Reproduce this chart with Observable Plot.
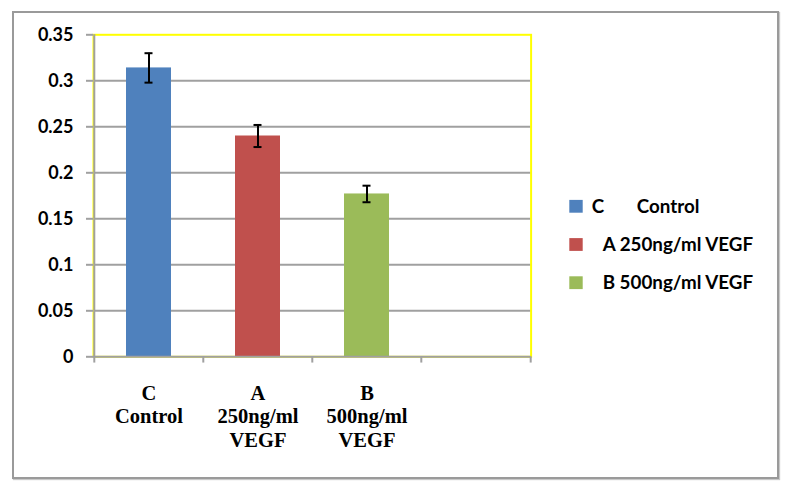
<!DOCTYPE html>
<html>
<head>
<meta charset="utf-8">
<script src="https://cdn.jsdelivr.net/npm/d3@7"></script>
<script src="https://cdn.jsdelivr.net/npm/@observablehq/plot@0.6"></script>
<style>
  html, body { margin: 0; padding: 0; background: #fff; }
  #wrap { position: relative; width: 796px; height: 486px; overflow: hidden; }
  #wrap > svg { position: absolute; left: 0; top: 0; }
  #frame { position: absolute; left: 12px; top: 11px; width: 763px; height: 464px;
           border: 2px solid #9a9a9a; box-shadow: 1px 1px 1px #c8c8c8; }
</style>
</head>
<body>
<div id="wrap"><div id="frame"></div></div>
<script>
// ---- data ----
const categories = ["C", "A", "B", ""];
const tickLabels = ["C\nControl", "A\n250ng/ml\nVEGF", "B\n500ng/ml\nVEGF", ""];
const means = [0.314, 0.240, 0.177];
const errors = [0.016, 0.012, 0.009];
const colors = ["#4f81bd", "#c0504d", "#9bbb59"];
const legendCodes = ["C", "A", "B"];
const legendNames = ["Control", "250ng/ml VEGF", "500ng/ml VEGF"];
const yTicks = [0, 0.05, 0.1, 0.15, 0.2, 0.25, 0.3, 0.35];

const data = means.map((v, i) => ({cat: categories[i], v, lo: v - errors[i], hi: v + errors[i], color: colors[i]}));

const W = 796, H = 486, ml = 93, mr = 265.4, mt = 34.3, mb = 129.7;
const step = (W - ml - mr) / categories.length;
const grid = "#a0a0a0";

const chart = Plot.plot({
  width: W, height: H,
  marginLeft: ml, marginRight: mr, marginTop: mt, marginBottom: mb,
  style: {background: "transparent", overflow: "visible"},
  x: {type: "band", domain: categories, paddingInner: 0.59, paddingOuter: 0.295, label: null},
  y: {domain: [0, 0.35], label: null},
  marks: [
    Plot.ruleY(yTicks.filter(t => t > 0 && t < 0.35), {stroke: grid, strokeWidth: 2}),
    Plot.frame({stroke: "#ffff00", strokeWidth: 2}),
    Plot.barY(data, {x: "cat", y: "v", fill: "color"}),
    Plot.ruleY([0], {stroke: grid, strokeWidth: 2}),
    Plot.ruleX([categories[0]], {x: d => d, dx: -step / 2, y1: 0, y2: 0.35, stroke: grid, strokeWidth: 2}),
    Plot.ruleX(categories, {x: d => d, dx: -step / 2, y1: 0, y2: -0.0068, stroke: grid, strokeWidth: 2}),
    Plot.ruleX([categories[categories.length - 1]], {x: d => d, dx: step / 2, y1: 0, y2: -0.0068, stroke: grid, strokeWidth: 2}),
    Plot.ruleX(data, {x: "cat", y1: "lo", y2: "hi", stroke: "#000", strokeWidth: 2}),
    Plot.tickY(data, {x: "cat", y: "hi", stroke: "#000", strokeWidth: 2, insetLeft: 18.5, insetRight: 18.5}),
    Plot.tickY(data, {x: "cat", y: "lo", stroke: "#000", strokeWidth: 2, insetLeft: 18.5, insetRight: 18.5}),
    Plot.axisY({ticks: yTicks, tickSize: 7, tickPadding: 13, stroke: grid, strokeWidth: 2, label: null,
      tickFormat: d => String(+d.toFixed(2)), fontSize: 18, fontFamily: "Lato", fontWeight: "bold", fill: "#000"}),
    Plot.axisX({tickSize: 0, tickPadding: 26, label: null, tickFormat: d => tickLabels[categories.indexOf(d)],
      fontSize: 20.5, fontFamily: "Liberation Serif", fontWeight: "bold", lineHeight: 1.16, fill: "#000"})
  ]
});
document.getElementById("wrap").appendChild(chart);

// ---- legend ----
const leg = d3.select("#wrap").append("svg")
  .attr("width", W).attr("height", H)
  .style("position", "absolute").style("left", 0).style("top", 0);
legendCodes.forEach((code, i) => {
  const by = 212.7 + i * 38.2;
  leg.append("rect").attr("x", 569.3).attr("y", by - 12.8).attr("width", 13.4).attr("height", 12.8).attr("fill", colors[i]);
  const t = leg.append("text").attr("y", by).attr("font-family", "Lato").attr("font-weight", "bold")
    .attr("font-size", 18.8).attr("fill", "#000");
  if (i === 0) {
    t.append("tspan").attr("x", 591.7).text(code);
    t.append("tspan").attr("x", 636.7).text(legendNames[i]);
  } else {
    t.attr("x", 602.7).text(code + " " + legendNames[i]);
  }
});
</script>
</body>
</html>
